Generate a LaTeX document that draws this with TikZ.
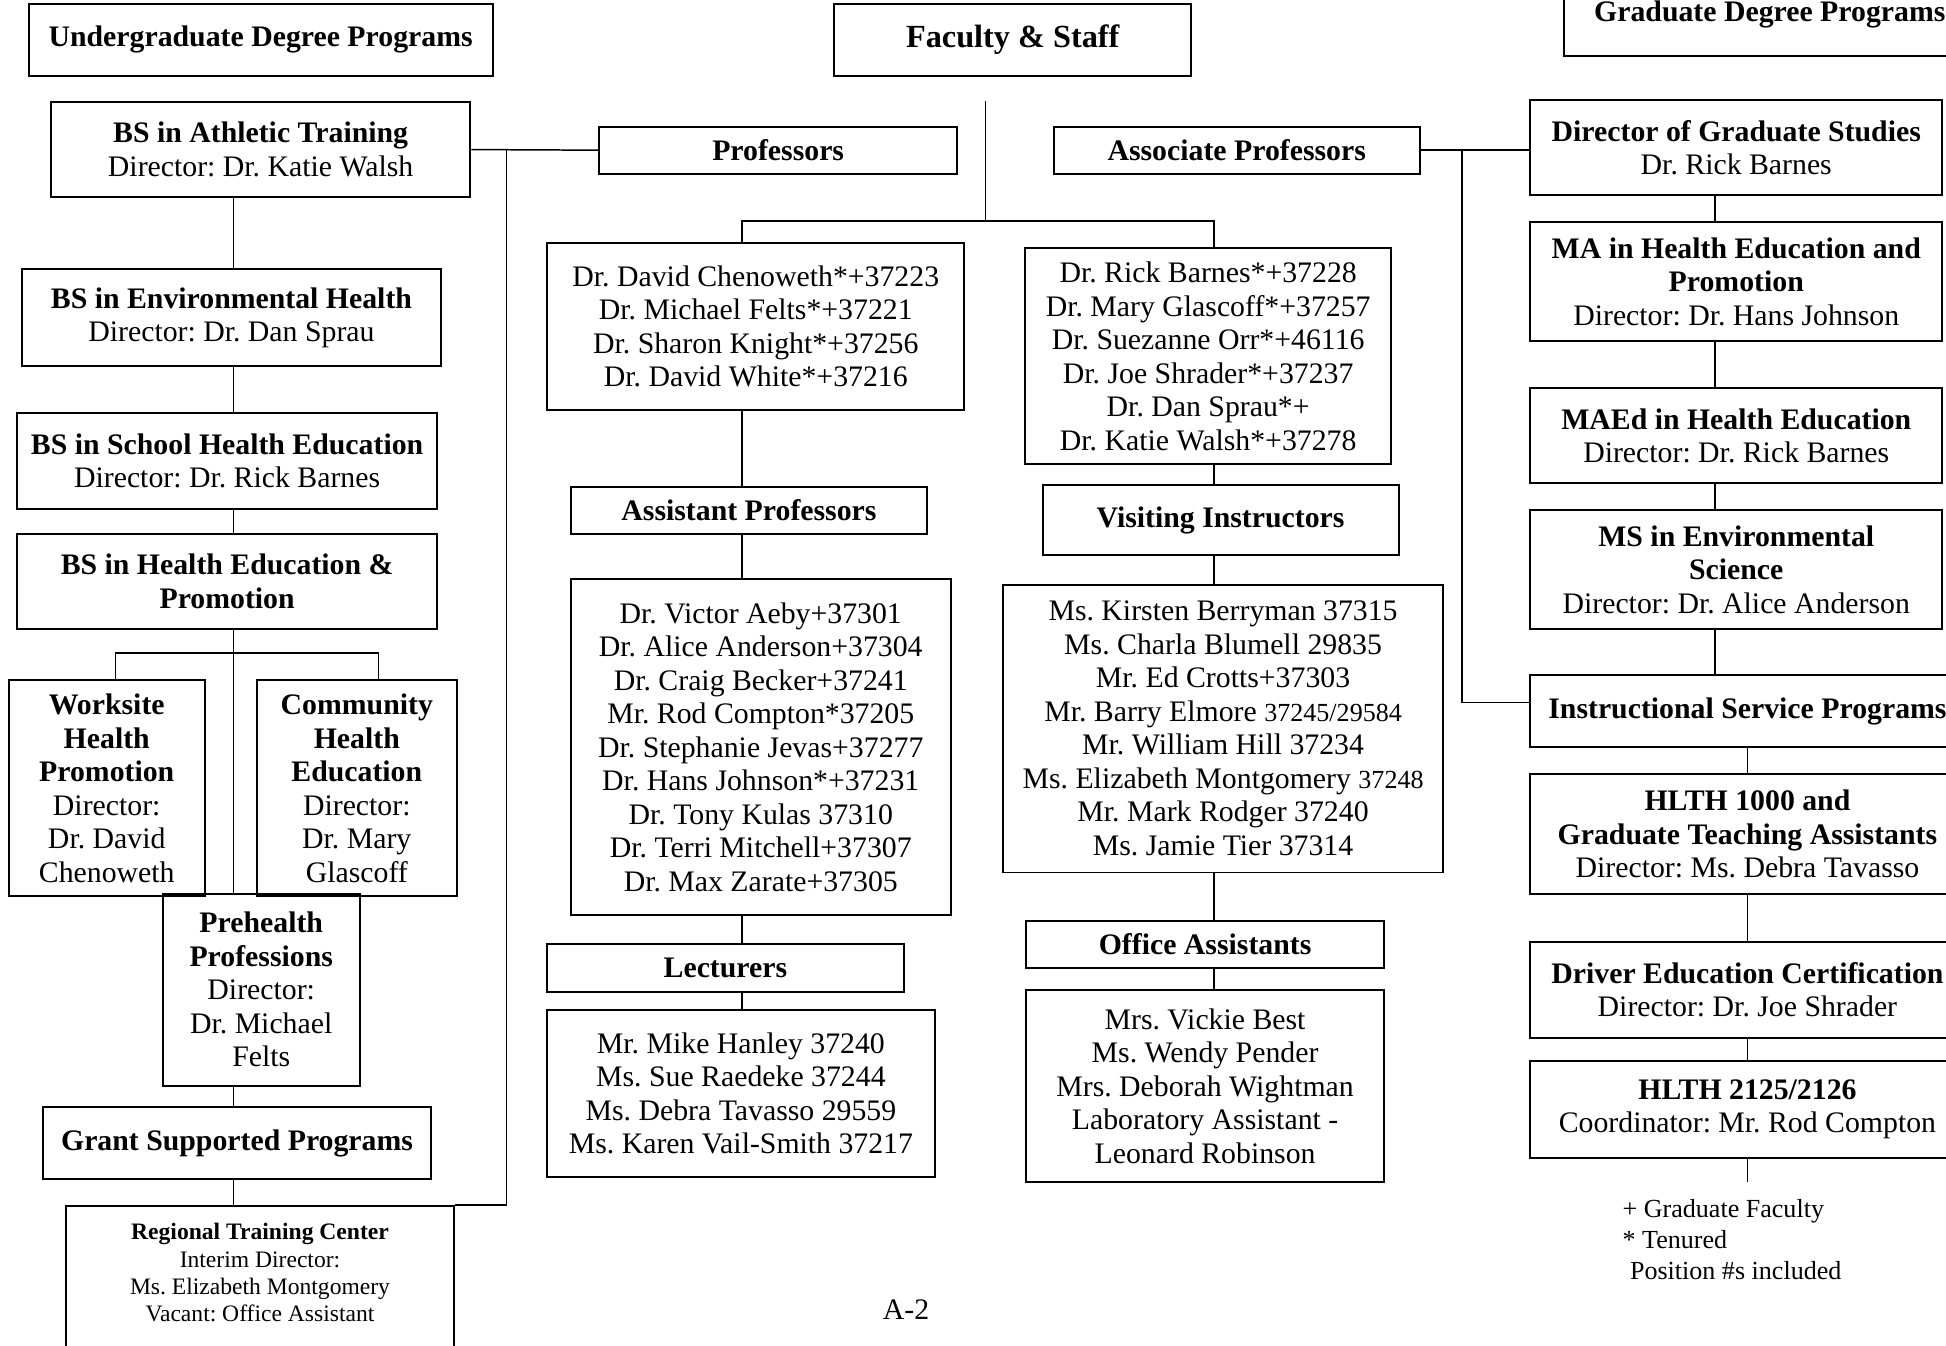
\documentclass[tikz,border=0pt]{standalone}
\usepackage{fontspec}
\setmainfont{Liberation Serif}
\usepackage{tikz}
\frenchspacing

\begin{document}
\begin{tikzpicture}[x=0.5pt,y=-0.5pt,
	box/.style={rectangle,draw,line width=0.8pt,inner sep=0pt,align=center,font=\fontsize{12}{13.5}\selectfont},
	link/.style={line width=0.6pt},
	]
	\useasboundingbox (0,0) rectangle (1568,1084);
	\clip (0,0) rectangle (1568,1084);

	% undergraduate side
	\node[box,minimum width=187pt,minimum height=29pt] (ugrad) at (210,32) {\textbf{Undergraduate Degree Programs}};
	\node[box,minimum width=169pt,minimum height=38.5pt] (athletic) at (210,120.5) {\textbf{BS in Athletic Training}\\Director: Dr. Katie Walsh};
	\node[box,minimum width=168.5pt,minimum height=39pt] (envhealth) at (186.5,256) {\textbf{BS in Environmental Health}\\Director: Dr. Dan Sprau};
	\node[box,minimum width=169pt,minimum height=38.5pt] (schoolhealth) at (183,371.5) {\textbf{BS in School Health Education}\\Director: Dr. Rick Barnes};
	\node[box,minimum width=169pt,minimum height=38.5pt] (hep) at (183,468.5) {\textbf{BS in Health Education \&}\\\textbf{Promotion}};
	\node[box,minimum width=79pt,minimum height=87pt] (worksite) at (86,635) {\textbf{Worksite}\\\textbf{Health}\\\textbf{Promotion}\\Director:\\Dr. David\\Chenoweth};
	\node[box,minimum width=80.5pt,minimum height=87pt] (community) at (287.5,635) {\textbf{Community}\\\textbf{Health}\\\textbf{Education}\\Director:\\Dr. Mary\\Glascoff};
	\node[box,minimum width=79.5pt,minimum height=77.5pt] (prehealth) at (210.5,797.5) {\textbf{Prehealth}\\\textbf{Professions}\\Director:\\Dr. Michael\\Felts};
	\node[box,minimum width=156pt,minimum height=29pt] (grant) at (191,921) {\textbf{Grant Supported Programs}};
	\node[box,anchor=north,minimum width=156.5pt,inner ysep=7pt,font=\fontsize{9.5}{11}\selectfont] (regional) at (209.5,971) {\textbf{Regional Training Center}\\Interim Director:\\Ms. Elizabeth Montgomery\\Vacant: Office Assistant\\[30pt]\mbox{}};

	% faculty and staff
	\node[box,minimum width=144pt,minimum height=29pt,font=\fontsize{13}{15}\selectfont\bfseries] (faculty) at (816,32) {Faculty \& Staff};
	\node[box,minimum width=144pt,minimum height=19pt] (professors) at (627,121) {\textbf{Professors}};
	\node[box,minimum width=147.5pt,minimum height=19pt] (assoc) at (996.5,121) {\textbf{Associate Professors}};
	\node[box,minimum width=168pt,minimum height=67.5pt] (proflist) at (609,263) {Dr. David Chenoweth*+37223\\Dr. Michael Felts*+37221\\Dr. Sharon Knight*+37256\\Dr. David White*+37216};
	\node[box,minimum width=147.5pt,minimum height=87pt] (assoclist) at (973.5,287) {Dr. Rick Barnes*+37228\\Dr. Mary Glascoff*+37257\\Dr. Suezanne Orr*+46116\\Dr. Joe Shrader*+37237\\Dr. Dan Sprau*+\\Dr. Katie Walsh*+37278};
	\node[box,minimum width=143.5pt,minimum height=19pt] (asst) at (603.5,411) {\textbf{Assistant Professors}};
	\node[box,minimum width=153pt,minimum height=135.5pt] (asstlist) at (613,602) {Dr. Victor Aeby+37301\\Dr. Alice Anderson+37304\\Dr. Craig Becker+37241\\Mr. Rod Compton*37205\\Dr. Stephanie Jevas+37277\\Dr. Hans Johnson*+37231\\Dr. Tony Kulas 37310\\Dr. Terri Mitchell+37307\\Dr. Max Zarate+37305};
	\node[box,minimum width=143.5pt,minimum height=19pt] (lecturers) at (584.5,780) {\textbf{Lecturers}};
	\node[box,minimum width=156pt,minimum height=67.5pt] (lectlist) at (597,881) {Mr. Mike Hanley 37240\\Ms. Sue Raedeke 37244\\Ms. Debra Tavasso 29559\\Ms. Karen Vail-Smith 37217};
	\node[box,minimum width=143.5pt,minimum height=28.5pt] (visiting) at (983.5,419) {\textbf{Visiting Instructors}};
	\node[box,minimum width=177.5pt,minimum height=116pt] (visitlist) at (985.5,587) {Ms. Kirsten Berryman 37315\\Ms. Charla Blumell 29835\\Mr. Ed Crotts+37303\\Mr. Barry Elmore {\fontsize{10.5}{13.5}\selectfont 37245/29584}\\Mr. William Hill 37234\\Ms. Elizabeth Montgomery {\fontsize{10.5}{13.5}\selectfont 37248}\\Mr. Mark Rodger 37240\\Ms. Jamie Tier 37314};
	\node[box,minimum width=144pt,minimum height=19pt] (office) at (971,761) {\textbf{Office Assistants}};
	\node[box,minimum width=144pt,minimum height=77pt] (officelist) at (971,875) {Mrs. Vickie Best\\Ms. Wendy Pender\\Mrs. Deborah Wightman\\Laboratory Assistant -\\Leonard Robinson};

	% graduate side
	\node[box,minimum width=166pt,minimum height=33pt] (gradprog) at (1426,12) {\textbf{Graduate Degree Programs}};
	\node[box,minimum width=166pt,minimum height=38.5pt] (gradstudies) at (1399,119) {\textbf{Director of Graduate Studies}\\Dr. Rick Barnes};
	\node[box,minimum width=166pt,minimum height=48pt] (mahealth) at (1399,227) {\textbf{MA in Health Education and}\\\textbf{Promotion}\\Director: Dr. Hans Johnson};
	\node[box,minimum width=166pt,minimum height=38.5pt] (maed) at (1399,351) {\textbf{MAEd in Health Education}\\Director: Dr. Rick Barnes};
	\node[box,minimum width=166pt,minimum height=48pt] (msenv) at (1399,459) {\textbf{MS in Environmental}\\\textbf{Science}\\Director: Dr. Alice Anderson};
	\node[box,minimum width=175pt,minimum height=29pt] (instr) at (1408,573) {\textbf{Instructional Service Programs}};
	\node[box,minimum width=175pt,minimum height=48pt] (hlth1000) at (1408,672) {\textbf{HLTH 1000 and}\\\textbf{Graduate Teaching Assistants}\\Director: Ms. Debra Tavasso};
	\node[box,minimum width=175pt,minimum height=38.5pt] (driver) at (1408,797.5) {\textbf{Driver Education Certification}\\Director: Dr. Joe Shrader};
	\node[box,minimum width=175pt,minimum height=39pt] (hlthcourse) at (1408,894) {\textbf{HLTH 2125/2126}\\Coordinator: Mr. Rod Compton};
	\node[anchor=north west,inner sep=0pt,align=left,font=\fontsize{10.5}{12.5}\selectfont] (legend) at (1307,966) {+ Graduate Faculty\\{*} Tenured\\\hspace*{3pt}Position \#s included};
	\node[font=\fontsize{12}{14}\selectfont] (page) at (730,1055) {A-2};

	\coordinate (trunk) at (188,0);
	\coordinate (fork) at (188,526);
	\coordinate (jL) at (408,121);
	\coordinate (jR) at (1178,121);
	\coordinate (topend) at (794,81);
	\coordinate (split) at (794,178);
	\coordinate (midL) at (598,0);
	\coordinate (midR) at (978,0);
	\coordinate (gradL) at (1382,0);
	\coordinate (endR) at (1408,952);

	\draw[link] (athletic.east) -- (professors.west);
	\draw[link] (jL) |- (regional.north east);
	\draw[link] (athletic.south -| trunk) -- (envhealth.north -| trunk);
	\draw[link] (envhealth.south -| trunk) -- (schoolhealth.north -| trunk);
	\draw[link] (schoolhealth.south -| trunk) -- (hep.north -| trunk);
	\draw[link] (hep.south -| trunk) -- (prehealth.north -| trunk);
	\draw[link] ([xshift=3.5pt]worksite.north) |- (fork) -| ([xshift=8.75pt]community.north);
	\draw[link] (prehealth.south -| trunk) -- (grant.north -| trunk);
	\draw[link] (grant.south -| trunk) -- (regional.north -| trunk);

	\draw[link] (topend) -- (split);
	\draw[link] (proflist.north -| midL) |- (split) -| (assoclist.north -| midR);
	\draw[link] (proflist.south -| midL) -- (asst.north -| midL);
	\draw[link] (asst.south -| midL) -- (asstlist.north -| midL);
	\draw[link] (asstlist.south -| midL) -- (lecturers.north -| midL);
	\draw[link] (lecturers.south -| midL) -- (lectlist.north -| midL);
	\draw[link] (assoclist.south -| midR) -- (visiting.north -| midR);
	\draw[link] (visiting.south -| midR) -- (visitlist.north -| midR);
	\draw[link] (visitlist.south -| midR) -- (office.north -| midR);
	\draw[link] (office.south -| midR) -- (officelist.north -| midR);

	\draw[link] (assoc.east) -- (assoc.east -| gradstudies.west);
	\draw[link] (jR) |- ([yshift=3.5pt]instr.west);
	\draw[link] (gradstudies.south -| gradL) -- (mahealth.north -| gradL);
	\draw[link] (mahealth.south -| gradL) -- (maed.north -| gradL);
	\draw[link] (maed.south -| gradL) -- (msenv.north -| gradL);
	\draw[link] (msenv.south -| gradL) -- (instr.north -| gradL);
	\draw[link] (instr.south) -- (hlth1000.north);
	\draw[link] (hlth1000.south) -- (driver.north);
	\draw[link] (driver.south) -- (hlthcourse.north);
	\draw[link] (hlthcourse.south) -- (endR);
\end{tikzpicture}
\end{document}
